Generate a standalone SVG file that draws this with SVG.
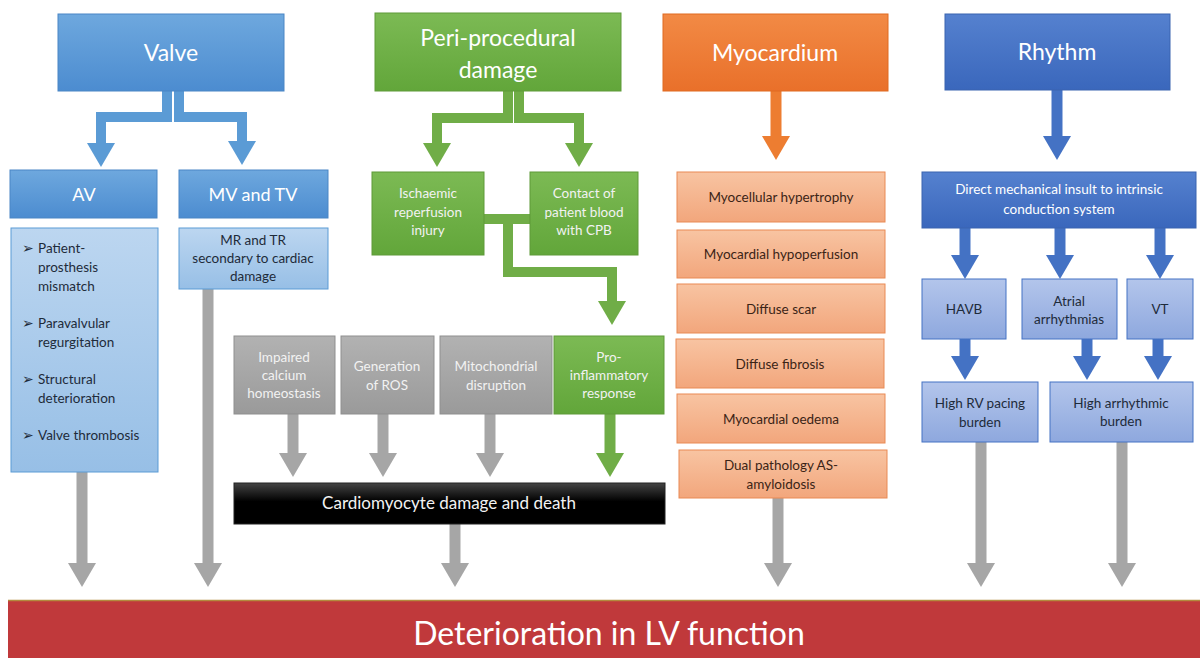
<svg xmlns="http://www.w3.org/2000/svg" width="1200" height="658" viewBox="0 0 1200 658">
<defs>
<linearGradient id="gBlue" x1="0" y1="0" x2="0" y2="1"><stop offset="0" stop-color="#6EA8DE"/><stop offset="1" stop-color="#4C8CD0"/></linearGradient>
<linearGradient id="gBlueL" x1="0" y1="0" x2="0" y2="1"><stop offset="0" stop-color="#BCD6F0"/><stop offset="1" stop-color="#97BFE6"/></linearGradient>
<linearGradient id="gGreen" x1="0" y1="0" x2="0" y2="1"><stop offset="0" stop-color="#7CBA54"/><stop offset="1" stop-color="#62A63A"/></linearGradient>
<linearGradient id="gOrange" x1="0" y1="0" x2="0" y2="1"><stop offset="0" stop-color="#F28A45"/><stop offset="1" stop-color="#E9702A"/></linearGradient>
<linearGradient id="gOrangeL" x1="0" y1="0" x2="0" y2="1"><stop offset="0" stop-color="#F8C4A2"/><stop offset="1" stop-color="#F2A67C"/></linearGradient>
<linearGradient id="gRoyal" x1="0" y1="0" x2="0" y2="1"><stop offset="0" stop-color="#5581CF"/><stop offset="1" stop-color="#3A67BC"/></linearGradient>
<linearGradient id="gRoyalL" x1="0" y1="0" x2="0" y2="1"><stop offset="0" stop-color="#B3C5EB"/><stop offset="1" stop-color="#8EA8DE"/></linearGradient>
<linearGradient id="gGray" x1="0" y1="0" x2="0" y2="1"><stop offset="0" stop-color="#B2B2B2"/><stop offset="1" stop-color="#9A9A9A"/></linearGradient>
<linearGradient id="gBlack" x1="0" y1="0" x2="0" y2="1"><stop offset="0" stop-color="#444"/><stop offset="0.45" stop-color="#000"/><stop offset="1" stop-color="#000"/></linearGradient>
<marker id="mGray" viewBox="0 0 24 28" refX="0" refY="14" markerWidth="24" markerHeight="28" markerUnits="userSpaceOnUse" orient="auto"><path d="M0,0 L24,14 L0,28 z" fill="#A6A6A6"/></marker>
<marker id="mBlue" viewBox="0 0 24 28" refX="0" refY="14" markerWidth="24" markerHeight="28" markerUnits="userSpaceOnUse" orient="auto"><path d="M0,0 L24,14 L0,28 z" fill="#5B9BD5"/></marker>
<marker id="mGreen" viewBox="0 0 24 28" refX="0" refY="14" markerWidth="24" markerHeight="28" markerUnits="userSpaceOnUse" orient="auto"><path d="M0,0 L24,14 L0,28 z" fill="#70AD47"/></marker>
<marker id="mOrange" viewBox="0 0 24 28" refX="0" refY="14" markerWidth="24" markerHeight="28" markerUnits="userSpaceOnUse" orient="auto"><path d="M0,0 L24,14 L0,28 z" fill="#ED7D31"/></marker>
<marker id="mRoyal" viewBox="0 0 24 28" refX="0" refY="14" markerWidth="24" markerHeight="28" markerUnits="userSpaceOnUse" orient="auto"><path d="M0,0 L24,14 L0,28 z" fill="#4472C4"/></marker>
</defs>
<style>
text{font-family:Lato,"Liberation Sans",sans-serif;text-anchor:middle}
.w{fill:#fff}
.wg{fill:#F2F2F2}
.dk{fill:#1E2B3A}
.do{fill:#3B2416}
.h1{font-size:23px}
.h2{font-size:18px}
.s{font-size:13.5px}
.st{text-anchor:start}
.bl{fill:url(#gBlue);stroke:#4A86C5;stroke-width:1}
.bll{fill:url(#gBlueL);stroke:#5B9BD5;stroke-width:1}
.gr{fill:url(#gGreen);stroke:#5E9A38;stroke-width:1}
.or{fill:url(#gOrange);stroke:#E06A20;stroke-width:1}
.orl{fill:url(#gOrangeL);stroke:#E98A55;stroke-width:1}
.ry{fill:url(#gRoyal);stroke:#3A64B0;stroke-width:1}
.ryl{fill:url(#gRoyalL);stroke:#4472C4;stroke-width:1}
.gy{fill:url(#gGray);stroke:#8F8F8F;stroke-width:1}
.cg{fill:none;stroke:#A6A6A6;stroke-width:11;marker-end:url(#mGray)}
.cb{fill:none;stroke:#5B9BD5;stroke-width:10;marker-end:url(#mBlue)}
.cgr{fill:none;stroke:#70AD47;stroke-width:10;marker-end:url(#mGreen)}
.cgr2{fill:none;stroke:#70AD47;stroke-width:10}
.co{fill:none;stroke:#ED7D31;stroke-width:11;marker-end:url(#mOrange)}
.cr{fill:none;stroke:#4472C4;stroke-width:11;marker-end:url(#mRoyal)}
</style>
<rect width="1200" height="658" fill="#fff"/>

<g id="connectors">
<path class="cb" d="M167,91 V117 H101 V143"/>
<path class="cb" d="M179,91 V117 H242 V141"/>
<path class="cgr" d="M508,91 V118 H437 V143"/>
<path class="cgr" d="M519,91 V118 H579 V143"/>
<path class="cgr2" d="M484,219 H530"/>
<path class="cgr" d="M508,219 V272 H612 V301"/>
<path class="co" d="M776,91 V136"/>
<path class="cr" d="M1057,90 V136"/>
<path class="cr" d="M965,228 V255"/>
<path class="cr" d="M1060,228 V255"/>
<path class="cr" d="M1160,228 V255"/>
<path class="cr" d="M965,339 V356"/>
<path class="cr" d="M1087,339 V356"/>
<path class="cr" d="M1158,339 V356"/>
<path class="cg" d="M82,472 V563"/>
<path class="cg" d="M208,289 V563"/>
<path class="cg" d="M293,414 V453"/>
<path class="cg" d="M383,414 V453"/>
<path class="cg" d="M490,414 V453"/>
<path class="cgr" d="M610,414 V453" style="stroke-width:11"/>
<path class="cg" d="M455,524 V563"/>
<path class="cg" d="M778,498 V563"/>
<path class="cg" d="M981,442 V563"/>
<path class="cg" d="M1122,442 V563"/>
</g>

<g id="valve"><rect class="bl" x="58" y="14" width="226" height="77"/><text class="w h1" x="171" y="61">Valve</text></g>
<g id="av"><rect class="bl" x="10" y="170" width="147" height="48"/><text class="w h2" x="84" y="201">AV</text></g>
<g id="mvtv"><rect class="bl" x="179" y="170" width="149" height="48"/><text class="w h2" x="253" y="201">MV and TV</text></g>
<g id="av-detail"><rect class="bll" x="11" y="228" width="147" height="244"/>
<text class="dk s st" x="22" y="253">➢</text><text class="dk s st" x="38" y="253">Patient-</text>
<text class="dk s st" x="38" y="272">prosthesis</text>
<text class="dk s st" x="38" y="291">mismatch</text>
<text class="dk s st" x="22" y="328">➢</text><text class="dk s st" x="38" y="328">Paravalvular</text>
<text class="dk s st" x="38" y="347">regurgitation</text>
<text class="dk s st" x="22" y="384">➢</text><text class="dk s st" x="38" y="384">Structural</text>
<text class="dk s st" x="38" y="403">deterioration</text>
<text class="dk s st" x="22" y="440">➢</text><text class="dk s st" x="38" y="440">Valve thrombosis</text>
</g>
<g id="mv-detail"><rect class="bll" x="179" y="228" width="149" height="61"/>
<text class="dk s" x="253" y="245">MR and TR</text><text class="dk s" x="253" y="263">secondary to cardiac</text><text class="dk s" x="253" y="281">damage</text></g>

<g id="peri"><rect class="gr" x="375" y="13" width="246" height="78"/><text class="w h1" x="498" y="46">Peri-procedural</text><text class="w h1" x="498" y="78">damage</text></g>
<g id="ischaemic"><rect class="gr" x="372" y="172" width="112" height="83"/><text class="wg s" x="428" y="198">Ischaemic</text><text class="wg s" x="428" y="217">reperfusion</text><text class="wg s" x="428" y="235">injury</text></g>
<g id="contact"><rect class="gr" x="530" y="172" width="108" height="83"/><text class="wg s" x="584" y="198">Contact of</text><text class="wg s" x="584" y="217">patient blood</text><text class="wg s" x="584" y="235">with CPB</text></g>
<g id="calcium"><rect class="gy" x="234" y="336" width="101" height="78"/><text class="wg s" x="284" y="362">Impaired</text><text class="wg s" x="284" y="380">calcium</text><text class="wg s" x="284" y="398">homeostasis</text></g>
<g id="ros"><rect class="gy" x="341" y="336" width="93" height="78"/><text class="wg s" x="387" y="371">Generation</text><text class="wg s" x="387" y="390">of ROS</text></g>
<g id="mito"><rect class="gy" x="440" y="336" width="112" height="78"/><text class="wg s" x="496" y="371">Mitochondrial</text><text class="wg s" x="496" y="390">disruption</text></g>
<g id="proinf"><rect class="gr" x="554" y="336" width="110" height="78"/><text class="wg s" x="609" y="362">Pro-</text><text class="wg s" x="609" y="380">inflammatory</text><text class="wg s" x="609" y="398">response</text></g>
<g id="cardiomyocyte"><rect fill="url(#gBlack)" stroke="#222" x="234" y="483" width="431" height="41"/><text class="wg" style="font-size:17px" x="449" y="509">Cardiomyocyte damage and death</text></g>

<g id="myocardium"><rect class="or" x="663" y="14" width="225" height="77"/><text class="w h1" x="775" y="61">Myocardium</text></g>
<g id="m1"><rect class="orl" x="677" y="172" width="208" height="50"/><text class="do s" x="781" y="202">Myocellular hypertrophy</text></g>
<g id="m2"><rect class="orl" x="677" y="230" width="208" height="48"/><text class="do s" x="781" y="259">Myocardial hypoperfusion</text></g>
<g id="m3"><rect class="orl" x="677" y="284" width="208" height="49"/><text class="do s" x="781" y="314">Diffuse scar</text></g>
<g id="m4"><rect class="orl" x="676" y="339" width="208" height="49"/><text class="do s" x="780" y="369">Diffuse fibrosis</text></g>
<g id="m5"><rect class="orl" x="677" y="394" width="208" height="49"/><text class="do s" x="781" y="424">Myocardial oedema</text></g>
<g id="m6"><rect class="orl" x="679" y="450" width="208" height="48"/><text class="do s" x="781" y="470">Dual pathology AS-</text><text class="do s" x="781" y="489">amyloidosis</text></g>

<g id="rhythm"><rect class="ry" x="945" y="14" width="225" height="76"/><text class="w h1" x="1057" y="60">Rhythm</text></g>
<g id="direct"><rect class="ry" x="922" y="172" width="274" height="56"/><text class="w s" x="1059" y="194">Direct mechanical insult to intrinsic</text><text class="w s" x="1059" y="214">conduction  system</text></g>
<g id="havb"><rect class="ryl" x="922" y="279" width="84" height="60"/><text class="dk s" x="964" y="314">HAVB</text></g>
<g id="atrial"><rect class="ryl" x="1022" y="279" width="95" height="60"/><text class="dk s" x="1069" y="306">Atrial</text><text class="dk s" x="1069" y="324">arrhythmias</text></g>
<g id="vt"><rect class="ryl" x="1127" y="279" width="66" height="60"/><text class="dk s" x="1160" y="314">VT</text></g>
<g id="rvpacing"><rect class="ryl" x="922" y="382" width="116" height="60"/><text class="dk s" x="980" y="408">High RV pacing</text><text class="dk s" x="980" y="427">burden</text></g>
<g id="arrhythmic"><rect class="ryl" x="1050" y="382" width="143" height="60"/><text class="dk s" x="1121" y="408">High arrhythmic</text><text class="dk s" x="1121" y="426">burden</text></g>

<g id="lv"><rect x="8" y="600" width="1192" height="58" fill="#C0393B"/><line x1="8" y1="600.5" x2="1200" y2="600.5" stroke="#B38A3E" stroke-width="1.5"/><text class="w" style="font-size:32px" x="609" y="645">Deterioration in LV function</text></g>
</svg>
